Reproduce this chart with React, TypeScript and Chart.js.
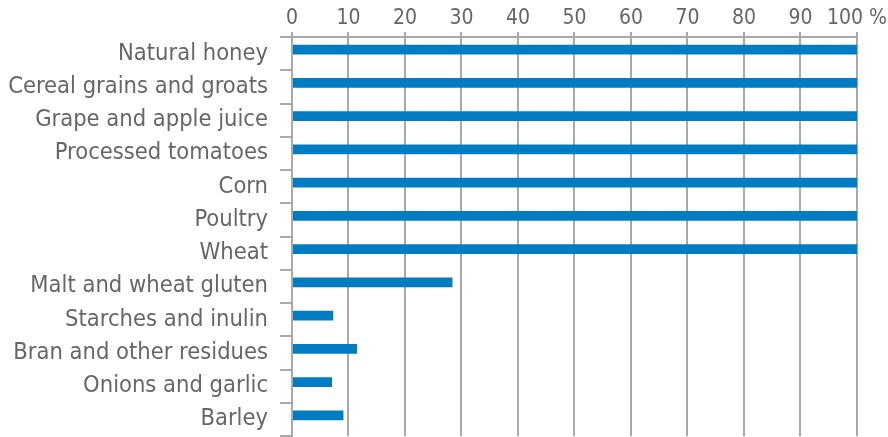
import React, { useEffect, useRef } from "react";
import { Chart, registerables } from "chart.js";

Chart.register(...registerables);

const categories = [
  "Natural honey",
  "Cereal grains and groats",
  "Grape and apple juice",
  "Processed tomatoes",
  "Corn",
  "Poultry",
  "Wheat",
  "Malt and wheat gluten",
  "Starches and inulin",
  "Bran and other residues",
  "Onions and garlic",
  "Barley",
];

const shares = [100, 100, 100, 100, 100, 100, 100, 28.4, 7.3, 11.5, 7.1, 9.1];

// empty companion series: keeps each bar in the upper half of its row
const spacer = categories.map(() => null);

const xTicks = [0, 10, 20, 30, 40, 50, 60, 70, 80, 90, 100];

const GRID = "#a9a9a9";
const TEXT = "#666666";
const BAR = "#007cc3";
const FONT = "'DejaVu Sans Condensed', 'DejaVu Sans', sans-serif";

export default function App() {
  const ref = useRef<HTMLCanvasElement | null>(null);

  useEffect(() => {
    document.body.style.margin = "0";
    const canvas = ref.current;
    if (!canvas) return;
    const chart = new Chart(canvas, {
      type: "bar",
      data: {
        labels: categories,
        datasets: [
          {
            data: shares,
            backgroundColor: BAR,
            borderWidth: 0,
            categoryPercentage: 0.48,
            barPercentage: 1.25,
          },
          {
            data: spacer,
            backgroundColor: BAR,
            borderWidth: 0,
            categoryPercentage: 0.48,
            barPercentage: 1.25,
          },
        ],
      },
      options: {
        indexAxis: "y",
        responsive: false,
        animation: false,
        layout: { padding: { top: 0, right: 31, bottom: 1, left: 0 } },
        plugins: { legend: { display: false }, tooltip: { enabled: false } },
        scales: {
          x: {
            position: "top",
            min: 0,
            max: 100,
            afterFit: (s: any) => {
              s.height = 37;
            },
            afterBuildTicks: (s: any) => {
              s.ticks = xTicks.map((v) => ({ value: v }));
            },
            ticks: {
              color: TEXT,
              font: { family: FONT, size: 21 },
              padding: 1,
              maxRotation: 0,
              autoSkip: false,
              callback: (v: any) => (Number(v) === 100 ? "100 %" : String(v)),
            },
            grid: { color: GRID, lineWidth: 2, tickLength: 5 },
            border: { display: true, color: GRID, width: 2 },
          },
          y: {
            afterFit: (s: any) => {
              s.width = 292;
              s.paddingTop = 0;
              s.paddingBottom = 0;
            },
            ticks: {
              color: TEXT,
              font: { family: FONT, size: 23.5 },
              padding: 12,
              autoSkip: false,
            },
            grid: {
              offset: true,
              drawOnChartArea: false,
              color: GRID,
              lineWidth: 2,
              tickLength: 12,
            },
            border: { display: true, color: GRID, width: 2 },
          },
        },
      },
    });
    return () => chart.destroy();
  }, []);

  return (
    <div style={{ position: "fixed", left: 0, top: 0, width: 888, height: 437, background: "#fff" }}>
      <canvas ref={ref} width={888} height={437} />
    </div>
  );
}
